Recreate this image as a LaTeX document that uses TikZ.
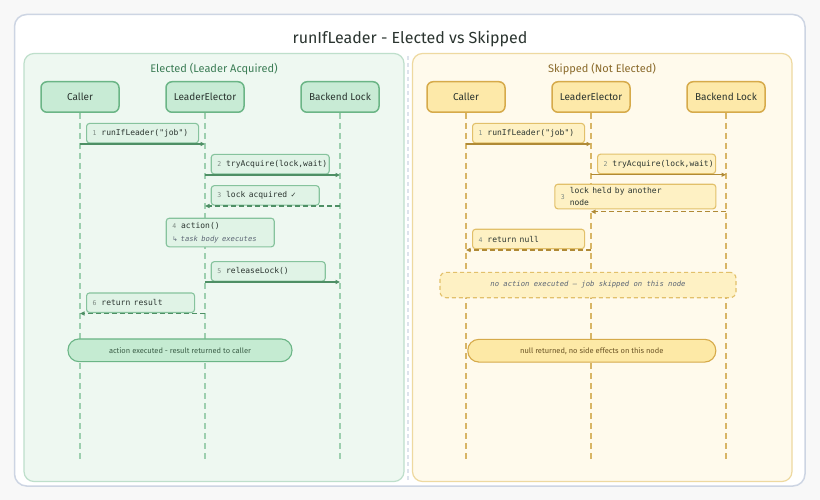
\documentclass[tikz,border=0pt]{standalone}
\usepackage{fontspec}
\setmainfont{Fira Sans}[Numbers=Lining]
\newfontfamily\monof{DejaVu Sans Mono}
\newfontfamily\symf{DejaVu Sans}
\usetikzlibrary{arrows.meta}
\definecolor{bgc}{HTML}{F8F8F8}
\definecolor{outerS}{HTML}{CDD5E3}
\definecolor{divc}{HTML}{DDE3EC}
\definecolor{gpanel}{HTML}{EEF8F1}
\definecolor{gpanelS}{HTML}{BEDFCB}
\definecolor{gactor}{HTML}{C8EBD5}
\definecolor{gactorS}{HTML}{6BB586}
\definecolor{gline}{HTML}{9DCFAF}
\definecolor{garrow}{HTML}{4E8F65}
\definecolor{gbox}{HTML}{E0F3E6}
\definecolor{gboxS}{HTML}{86C39D}
\definecolor{gtitle}{HTML}{3C7D56}
\definecolor{gnotec}{HTML}{C5EBD2}
\definecolor{gnotet}{HTML}{3B5E47}
\definecolor{ypanel}{HTML}{FFFAEC}
\definecolor{ypanelS}{HTML}{EED9A0}
\definecolor{yactor}{HTML}{FDE9A9}
\definecolor{yactorS}{HTML}{D6AA4A}
\definecolor{yline}{HTML}{D8B566}
\definecolor{yarrow}{HTML}{B08A36}
\definecolor{ybox}{HTML}{FEF1C4}
\definecolor{yboxS}{HTML}{E2C06A}
\definecolor{ytitle}{HTML}{8A6A2B}
\definecolor{ynotec}{HTML}{FDE9A6}
\definecolor{ynotet}{HTML}{6B5425}
\definecolor{txt}{HTML}{2B3530}
\definecolor{numc}{HTML}{7D8A83}
\definecolor{subc}{HTML}{5C6675}
\newcommand\msgnum[1]{{\monof\fontsize{6.5}{8}\selectfont\color{numc}#1}\hspace{5pt}}
\newcommand\msgtxt[1]{\mbox{\monof\fontsize{8}{10}\selectfont\color{txt}#1}}
\newcommand\subtxt[1]{\mbox{\monof\itshape\fontsize{7.2}{9}\selectfont\color{subc}#1}}
\tikzset{
  actorbox/.style={rounded corners=6pt, minimum width=78pt, minimum height=30.5pt, line width=1.5pt, font=\fontsize{10}{12}\selectfont, text=txt},
  gact/.style={actorbox, draw=gactorS, fill=gactor},
  yact/.style={actorbox, draw=yactorS, fill=yactor},
  glife/.style={draw=gline, line width=1.5pt, dash pattern=on 6pt off 4pt},
  ylife/.style={draw=yline, line width=1.5pt, dash pattern=on 6pt off 4pt},
  msgbox/.style={rounded corners=3pt, line width=1.1pt, minimum height=19.5pt, inner xsep=6pt, inner ysep=3pt, align=left, text width=#1},
  gmsg/.style={msgbox=#1, draw=gboxS, fill=gbox},
  ymsg/.style={msgbox=#1, draw=yboxS, fill=ybox},
  garr/.style={draw=garrow, line width=1.3pt, -{Triangle[length=4.5pt,width=4pt]}},
  yarr/.style={draw=yarrow, line width=1.3pt, -{Triangle[length=4.5pt,width=4pt]}},
  gret/.style={garr, dash pattern=on 5pt off 3pt},
  yret/.style={yarr, dash pattern=on 5pt off 3pt},
  notebox/.style={rounded corners=11pt, line width=1.1pt, minimum height=22.7pt, font=\fontsize{7.5}{9}\selectfont},
}
\begin{document}
\begin{tikzpicture}[x=1pt,y=-1pt]
\path[fill=bgc] (0,0) rectangle (820,500);
\useasboundingbox (0,0) rectangle (820,500);
\draw[outerS, line width=1.5pt, fill=white, rounded corners=12pt] (14.5,14.5) rectangle (805,486);
\node[font=\fontsize{16}{18}\selectfont, text=txt] (title) at (410,39) {runIfLeader - Elected vs Skipped};
% panels
\draw[gpanelS, line width=1.2pt, fill=gpanel, rounded corners=10pt] (24,53.5) rectangle (404,481.5);
\draw[ypanelS, line width=1.2pt, fill=ypanel, rounded corners=10pt] (412.5,53.5) rectangle (792,481.5);
\draw[divc, line width=1.2pt, dash pattern=on 4pt off 3pt] (408,56) -- (408,480);
\node[font=\fontsize{11}{13}\selectfont, text=gtitle] (gtitleN) at (214,69.5) {Elected (Leader Acquired)};
\node[font=\fontsize{11}{13}\selectfont, text=ytitle] (ytitleN) at (602,69.5) {Skipped (Not Elected)};
% actors
\node[gact] (gcaller) at (80,97) {Caller};
\node[gact] (gle) at (205,97) {LeaderElector};
\node[gact] (gbl) at (340,97) {Backend Lock};
\node[yact] (ycaller) at (466,97) {Caller};
\node[yact] (yle) at (591,97) {LeaderElector};
\node[yact] (ybl) at (726,97) {Backend Lock};
\coordinate (gcallerE) at (80,460);
\coordinate (gleE) at (205,460);
\coordinate (gblE) at (340,460);
\coordinate (ycallerE) at (466,460);
\coordinate (yleE) at (591,460);
\coordinate (yblE) at (726,460);
\draw[glife] (gcaller) -- (gcallerE);
\draw[glife] (gle) -- (gleE);
\draw[glife] (gbl) -- (gblE);
\draw[ylife] (ycaller) -- (ycallerE);
\draw[ylife] (yle) -- (yleE);
\draw[ylife] (ybl) -- (yblE);
% left message boxes
\node[gmsg=100pt, anchor=south west] (g1l) at (86,143.5) {\msgnum{1}\msgtxt{runIfLeader("job")}};
\node[gmsg=106pt, anchor=south west] (g2l) at (210.7,174.5) {\makebox[106pt][l]{\msgnum{2}\msgtxt{tryAcquire(lock,wait)}}};
\node[gmsg=96pt, anchor=south west] (g3l) at (210.7,205.7) {\msgnum{3}\msgtxt{lock acquired {\symf\fontsize{7}{9}\selectfont ✓}}};
\node[gmsg=96pt, anchor=north west, inner ysep=4pt] (g4l) at (165.7,217.7) {\msgnum{4}\msgtxt{action()}\\[1pt]{\symf\fontsize{6.5}{8}\selectfont\color{subc}↳}\hspace{3pt}\subtxt{task body executes}};
\node[gmsg=102pt, anchor=south west] (g5l) at (210.7,281.7) {\msgnum{5}\msgtxt{releaseLock()}};
\node[gmsg=96pt, anchor=south west] (g6l) at (86,313) {\msgnum{6}\msgtxt{return result}};
% left arrows
\coordinate (g1a) at (80,144); \coordinate (g1b) at (205,144);
\coordinate (g2a) at (205,175); \coordinate (g2b) at (340,175);
\coordinate (g3a) at (340,206); \coordinate (g3b) at (205,206);
\coordinate (g5a) at (205,282); \coordinate (g5b) at (340,282);
\coordinate (g6a) at (205,313.5); \coordinate (g6b) at (80,313.5);
\draw[garr] (g1a) -- (g1b);
\draw[garr] (g2a) -- (g2b);
\draw[gret] (g3a) -- (g3b);
\draw[garr] (g5a) -- (g5b);
\draw[gret] (g6a) -- (g6b);
\node[notebox, draw=gactorS, fill=gnotec, text=gnotet, minimum width=224pt] (gnote) at (180,350.3) {action executed - result returned to caller};
% right message boxes
\node[ymsg=100pt, anchor=south west] (y1l) at (472,143.5) {\msgnum{1}\msgtxt{runIfLeader("job")}};
\node[ymsg=106pt, anchor=south west] (y2l) at (597,174.2) {\makebox[106pt][l]{\msgnum{2}\msgtxt{tryAcquire(lock,wait)}}};
\node[ymsg=149pt, anchor=north west, minimum height=24.6pt, inner ysep=2pt] (y3l) at (554.3,183.7) {\msgnum{3}\parbox[c]{120pt}{\monof\fontsize{8}{11.5}\selectfont\color{txt}lock held by another\\node}};
\node[ymsg=100pt, anchor=south west] (y4l) at (472,249.3) {\msgnum{4}\msgtxt{return null}};
% right arrows
\coordinate (y1a) at (466,144); \coordinate (y1b) at (591,144);
\coordinate (y2a) at (591,174.7); \coordinate (y2b) at (726,174.7);
\coordinate (y3a) at (726,211.7); \coordinate (y3b) at (591,211.7);
\coordinate (y4a) at (591,250); \coordinate (y4b) at (466,250);
\draw[yarr] (y1a) -- (y1b);
\draw[yarr] (y2a) -- (y2b);
\draw[yret] (y3a) -- (y3b);
\draw[yret] (y4a) -- (y4b);
\node[rounded corners=6pt, line width=1.1pt, draw=yboxS, fill=ybox, dash pattern=on 4pt off 3pt, minimum width=296pt, minimum height=25.4pt] (yskip) at (588,285) {\subtxt{no action executed — job skipped on this node}};
\node[notebox, draw=yactorS, fill=ynotec, text=ynotet, minimum width=248pt] (ynote) at (591.8,350.7) {null returned, no side effects on this node};
\end{tikzpicture}
\end{document}
